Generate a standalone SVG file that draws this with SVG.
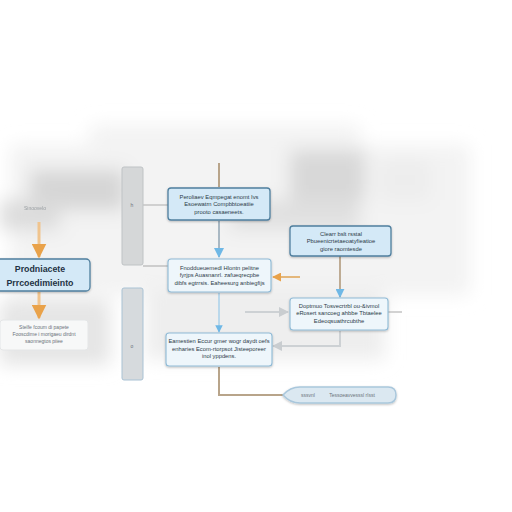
<svg xmlns="http://www.w3.org/2000/svg" width="512" height="512" viewBox="0 0 512 512">
<defs>
<filter id="blur" x="-30%" y="-50%" width="160%" height="200%"><feGaussianBlur stdDeviation="9"/></filter>
<filter id="sblur" x="-20%" y="-200%" width="140%" height="500%"><feGaussianBlur stdDeviation="2"/></filter>
<filter id="shadow" x="-10%" y="-20%" width="120%" height="140%"><feDropShadow dx="0" dy="1" stdDeviation="1.2" flood-color="#000" flood-opacity="0.25"/></filter>
<marker id="aO" viewBox="0 0 10 10" refX="9" refY="5" markerWidth="5" markerHeight="5" orient="auto"><path d="M0,0 L10,5 L0,10 z" fill="#e9a24a"/></marker>
<marker id="aB" viewBox="0 0 10 10" refX="9" refY="5" markerWidth="5" markerHeight="5" orient="auto"><path d="M0,0 L10,5 L0,10 z" fill="#6fb8e6"/></marker>
<marker id="aG" viewBox="0 0 10 10" refX="9" refY="5" markerWidth="5" markerHeight="5" orient="auto"><path d="M0,0 L10,5 L0,10 z" fill="#c9cdd0"/></marker>
</defs>
<style>
.t{font-family:"Liberation Sans",Arial,sans-serif;font-size:5.8px;fill:#2c3b48;text-anchor:middle}
.tb{font-family:"Liberation Sans",Arial,sans-serif;font-size:8.8px;font-weight:bold;fill:#1f3345;text-anchor:middle}
.tg{font-family:"Liberation Sans",Arial,sans-serif;font-size:5px;fill:#6b737a;text-anchor:middle}
.box{fill:#d4e9f7;stroke:#4f7f9e;stroke-width:1.3}
.pale{fill:#eef6fb;stroke:#8fbad6;stroke-width:1.1}
.bar{fill:#d5d7d8;stroke:#bfc3c5;stroke-width:1}
</style>
<rect width="512" height="512" fill="#ffffff"/>
<g id="background" filter="url(#blur)">
<rect x="10" y="145" width="460" height="150" fill="#f3f3f3"/>
<rect x="30" y="170" width="95" height="40" fill="#d6d6d6"/>
<rect x="0" y="200" width="60" height="30" fill="#dcdcdc"/>
<rect x="290" y="150" width="75" height="50" fill="#d8d8d8"/>
<rect x="230" y="200" width="130" height="30" fill="#e0e0e0"/>
<rect x="380" y="160" width="50" height="40" fill="#ededed"/>
<rect x="0" y="300" width="110" height="65" fill="#e5e5e5"/>
<rect x="145" y="290" width="240" height="70" fill="#eeeeee"/>
<rect x="90" y="125" width="270" height="25" fill="#f3f3f3"/>
</g>
<text x="35" y="210" class="tg" opacity="0.6">Sinoovelo</text>
<g id="connectors" fill="none">
<path d="M0,205 L122,205" stroke="#cfcfcf" stroke-width="5" filter="url(#sblur)"/>
<path d="M143,205 L168,205" stroke="#d0d0d0" stroke-width="2"/>
<path d="M143,266 L168,266" stroke="#cdcdcd" stroke-width="2"/>
<path d="M39,222 L39,257" stroke="#f0c48e" stroke-width="3" marker-end="url(#aO)"/>
<path d="M39,292 L39,318" stroke="#f0c48e" stroke-width="3" marker-end="url(#aO)"/>
<path d="M219,163 L219,187" stroke="#b8a48a" stroke-width="2"/>
<path d="M219,221 L219,257" stroke="#a9b8c3" stroke-width="2" marker-end="url(#aB)"/>
<path d="M340,256 L340,297" stroke="#b8a48a" stroke-width="1.8" marker-end="url(#aB)"/>
<path d="M300,277 L273,277" stroke="#e3b06e" stroke-width="1.8" marker-end="url(#aO)"/>
<path d="M219,293 L219,332" stroke="#a8d0ea" stroke-width="1.5" marker-end="url(#aB)"/>
<path d="M245,312 L288,312" stroke="#cdd1d4" stroke-width="2" marker-end="url(#aG)"/>
<path d="M388,312 L402,312" stroke="#d2d2d2" stroke-width="2"/>
<path d="M340,331 L340,346 L273,346" stroke="#cdd1d4" stroke-width="2" marker-end="url(#aG)"/>
<path d="M219,367 L219,395 L283,395" stroke="#b8a48a" stroke-width="2"/>
</g>
<g id="bar1"><rect x="122" y="167" width="21" height="98" rx="2" class="bar"/><text x="132" y="207" class="tg" font-size="7">h</text></g>
<g id="bar2"><rect x="122" y="288" width="21" height="92" rx="2" fill="#d6dadd" stroke="#a9c2d4" stroke-width="1"/><text x="132" y="348" class="tg" font-size="8" fill="#444">o</text></g>
<g id="n-left"><rect x="-5" y="259" width="95" height="32" rx="4" class="box" filter="url(#shadow)"/>
<text x="40" y="272" class="tb">Prodniacete</text><text x="40" y="286" class="tb">Prrcoedimieinto</text></g>
<g id="n-left-sub"><rect x="0" y="320" width="88" height="30" rx="3" fill="#f7f8f8" stroke="#e4e6e7" stroke-width="1"/>
<text x="44" y="329" class="tg">Stelfe fcoum di papete</text><text x="44" y="336" class="tg">Fooscdime i morigaeu dirdnt</text><text x="44" y="343" class="tg">saonnegtos piiee</text></g>
<g id="n-top"><rect x="168" y="188" width="102" height="32" rx="3" class="box" filter="url(#shadow)"/>
<text x="219" y="199" class="t">Peroliaev Eqmpegat enomt Ivs</text><text x="219" y="206" class="t">Esoewatrn Compbbtoeatiie</text><text x="219" y="214" class="t">prooto casaeneets.</text></g>
<g id="n-righttop"><rect x="290" y="226" width="101" height="30" rx="3" class="box" filter="url(#shadow)"/>
<text x="341" y="236" class="t">Clearr bslt rsstal</text><text x="341" y="243" class="t">Pbueenicrtetaeoatyfieatioe</text><text x="341" y="251" class="t">giore raomtesde</text></g>
<g id="n-mid"><rect x="168" y="259" width="103" height="33" rx="3" class="pale" filter="url(#shadow)"/>
<text x="219.5" y="270" class="t">Fnoddueuemedl Hlontn pelitne</text><text x="219.5" y="277" class="t">fyrjps Auasnanrl. zafueqrecpbe</text><text x="219.5" y="285" class="t">dibfs egtrrsis. Eaheesurg anbiegfijs</text></g>
<g id="n-rightmid"><rect x="290" y="298" width="98" height="32" rx="3" class="pale" filter="url(#shadow)"/>
<text x="339" y="308" class="t">Doptmuo Tosvecrtrbl ou-&amp;ivmol</text><text x="339" y="315" class="t">eRosert sancoeg ahbbe Tbtaelee</text><text x="339" y="323" class="t">Edeoqsuathrcubthe</text></g>
<g id="n-bottom"><rect x="166" y="333" width="106" height="33" rx="3" class="pale" filter="url(#shadow)"/>
<text x="219" y="343" class="t">Eamestien Eccur gmer wogr daydt oefs</text><text x="219" y="351" class="t">enharies Ecom-rtorpsot Jisteeporeer</text><text x="219" y="358" class="t">inol yppdens.</text></g>
<g id="n-pill"><path d="M283,395 Q290,387 300,387 L388,387 Q396,387 396,395 Q396,403 388,403 L300,403 Q290,403 283,395 z" fill="#dbe8f1" stroke="#a9c7dc" stroke-width="1.5" filter="url(#shadow)"/>
<text x="308" y="397" class="tg" fill="#5f6f7c">sssvnl</text><text x="352" y="397" class="tg" fill="#5f6f7c">Tessoeavvesssl rlsst</text></g>
</svg>
